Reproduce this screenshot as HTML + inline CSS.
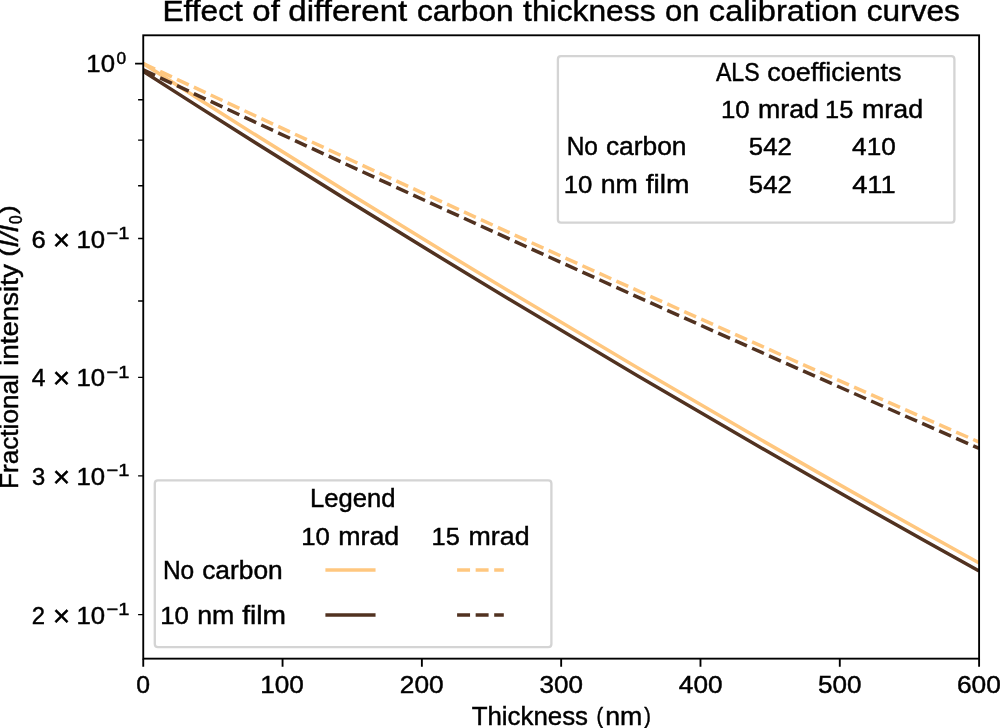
<!DOCTYPE html>
<html lang="en">
<head>
<meta charset="utf-8">
<title>Effect of different carbon thickness on calibration curves</title>
<style>
html,body{margin:0;padding:0;background:#fff;}
body{width:1000px;height:728px;overflow:hidden;font-family:"Liberation Sans",sans-serif;}
svg{display:block;will-change:transform;position:absolute;left:0;top:0;}
text{white-space:pre;}
</style>
</head>
<body>
<svg width="1000" height="728" viewBox="0 0 1000 728" font-family="'Liberation Sans', sans-serif">
<rect width="1000" height="728" fill="#fff"/>
<clipPath id="ax"><rect x="143.25" y="35.3" width="835.85" height="623.35"/></clipPath>
<g clip-path="url(#ax)" fill="none" stroke-width="3.5">
<path d="M143.25 63.5Q561.17 331.75 979.1 563" stroke="#ffc77f"/>
<path d="M143.25 71.4Q561.17 339.7 979.1 571" stroke="#513220"/>
<path d="M143.25 63.5Q561.17 259.45 979.1 442.1" stroke="#ffc77f" stroke-dasharray="12.98 5.615"/>
<path d="M143.25 69.9Q561.17 265.8 979.1 448.4" stroke="#513220" stroke-dasharray="12.98 5.615"/>
</g>
<path d="M561 56.2H951.3Q954.4 56.2 954.4 59.3V219.45Q954.4 222.55 951.3 222.55H561Q557.9 222.55 557.9 219.45V59.3Q557.9 56.2 561 56.2Z" fill="#fff" fill-opacity="0.8" stroke="#d4d4d4" stroke-width="2.33"/>
<path d="M157.9 480.4H548.3Q551.4 480.4 551.4 483.5V644Q551.4 647.1 548.3 647.1H157.9Q154.8 647.1 154.8 644V483.5Q154.8 480.4 157.9 480.4Z" fill="#fff" fill-opacity="0.8" stroke="#d4d4d4" stroke-width="2.33"/>
<rect x="143.25" y="35.3" width="835.85" height="623.35" fill="none" stroke="#000" stroke-width="1.87"/>
<path d="M143.25 658.65v8.17M282.56 658.65v8.17M421.87 658.65v8.17M561.17 658.65v8.17M700.48 658.65v8.17M839.79 658.65v8.17M979.1 658.65v8.17M143.25 63.6h-8.17" stroke="#000" stroke-width="1.87" fill="none"/>
<path d="M143.25 99.77h-5.15M143.25 140.08h-5.15M143.25 185.79h-5.15M143.25 238.56h-5.15M143.25 300.97h-5.15M143.25 377.36h-5.15M143.25 475.83h-5.15M143.25 614.63h-5.15" stroke="#000" stroke-width="1.4" fill="none"/>
<g fill="#000" stroke="#000" stroke-width="0.45" font-family="'Liberation Sans', sans-serif">
<text x="162.4" y="21.1" font-size="30.39" textLength="80.36" lengthAdjust="spacingAndGlyphs">Effect</text>
<text x="252.33" y="21.1" font-size="30.39" textLength="27.46" lengthAdjust="spacingAndGlyphs">of</text>
<text x="288.39" y="21.1" font-size="30.39" textLength="118.92" lengthAdjust="spacingAndGlyphs">different</text>
<text x="416.91" y="21.1" font-size="30.39" textLength="96.66" lengthAdjust="spacingAndGlyphs">carbon</text>
<text x="523.12" y="21.1" font-size="30.39" textLength="132.43" lengthAdjust="spacingAndGlyphs">thickness</text>
<text x="664.95" y="21.1" font-size="30.39" textLength="34.45" lengthAdjust="spacingAndGlyphs">on</text>
<text x="708.88" y="21.1" font-size="30.39" textLength="148.5" lengthAdjust="spacingAndGlyphs">calibration</text>
<text x="866.8" y="21.1" font-size="30.39" textLength="93.06" lengthAdjust="spacingAndGlyphs">curves</text>
<text x="136.38" y="693" font-size="24.62" textLength="13.75" lengthAdjust="spacingAndGlyphs">0</text>
<text x="260.26" y="693" font-size="24.62" textLength="43.64" lengthAdjust="spacingAndGlyphs">100</text>
<text x="399.81" y="693" font-size="24.62" textLength="43.83" lengthAdjust="spacingAndGlyphs">200</text>
<text x="539.48" y="693" font-size="24.62" textLength="43.43" lengthAdjust="spacingAndGlyphs">300</text>
<text x="678.86" y="693" font-size="24.62" textLength="43.68" lengthAdjust="spacingAndGlyphs">400</text>
<text x="818.06" y="693" font-size="24.62" textLength="43.46" lengthAdjust="spacingAndGlyphs">500</text>
<text x="956.98" y="693" font-size="24.62" textLength="43.94" lengthAdjust="spacingAndGlyphs">600</text>
<text x="471.73" y="724.5" font-size="25.33" textLength="116.32" lengthAdjust="spacingAndGlyphs">Thickness</text>
<text x="596.51" y="723" font-size="22.4" textLength="6.6" lengthAdjust="spacingAndGlyphs">(</text>
<text x="605.24" y="724.5" font-size="25.33" textLength="37.11" lengthAdjust="spacingAndGlyphs">nm</text>
<text x="644.34" y="723" font-size="22.4" textLength="6.6" lengthAdjust="spacingAndGlyphs">)</text>
<text x="86.32" y="72.2" font-size="24.62" textLength="28.67" lengthAdjust="spacingAndGlyphs">10</text>
<text x="116.41" y="63.8" font-size="17.23" textLength="9.62" lengthAdjust="spacingAndGlyphs">0</text>
<text x="31.54" y="247.56" font-size="24.62" textLength="14.23" lengthAdjust="spacingAndGlyphs">6</text>
<text x="52.76" y="249.6" font-size="29.9" textLength="17.45" lengthAdjust="spacingAndGlyphs">×</text>
<text x="76.42" y="247.56" font-size="24.62" textLength="28.67" lengthAdjust="spacingAndGlyphs">10</text>
<text x="106.55" y="238.96" font-size="17.23" textLength="22.91" lengthAdjust="spacingAndGlyphs">−1</text>
<text x="31.78" y="386.36" font-size="24.62" textLength="13.74" lengthAdjust="spacingAndGlyphs">4</text>
<text x="52.76" y="388.4" font-size="29.9" textLength="17.45" lengthAdjust="spacingAndGlyphs">×</text>
<text x="76.42" y="386.36" font-size="24.62" textLength="28.67" lengthAdjust="spacingAndGlyphs">10</text>
<text x="106.55" y="377.76" font-size="17.23" textLength="22.91" lengthAdjust="spacingAndGlyphs">−1</text>
<text x="32.08" y="484.83" font-size="24.62" textLength="13.21" lengthAdjust="spacingAndGlyphs">3</text>
<text x="52.76" y="486.87" font-size="29.9" textLength="17.45" lengthAdjust="spacingAndGlyphs">×</text>
<text x="76.42" y="484.83" font-size="24.62" textLength="28.67" lengthAdjust="spacingAndGlyphs">10</text>
<text x="106.55" y="476.23" font-size="17.23" textLength="22.91" lengthAdjust="spacingAndGlyphs">−1</text>
<text x="31.72" y="623.63" font-size="24.62" textLength="13.24" lengthAdjust="spacingAndGlyphs">2</text>
<text x="52.76" y="625.67" font-size="29.9" textLength="17.45" lengthAdjust="spacingAndGlyphs">×</text>
<text x="76.42" y="623.63" font-size="24.62" textLength="28.67" lengthAdjust="spacingAndGlyphs">10</text>
<text x="106.55" y="615.03" font-size="17.23" textLength="22.91" lengthAdjust="spacingAndGlyphs">−1</text>
<text x="715.93" y="81.2" font-size="25.33" textLength="43.6" lengthAdjust="spacingAndGlyphs">ALS</text>
<text x="767.39" y="81.2" font-size="25.33" textLength="134.11" lengthAdjust="spacingAndGlyphs">coefficients</text>
<text x="720.93" y="118.3" font-size="24.62" textLength="28.67" lengthAdjust="spacingAndGlyphs">10</text>
<text x="757.97" y="118.3" font-size="25.33" textLength="60.96" lengthAdjust="spacingAndGlyphs">mrad</text>
<text x="825.06" y="118.3" font-size="24.62" textLength="28.21" lengthAdjust="spacingAndGlyphs">15</text>
<text x="862.07" y="118.3" font-size="25.33" textLength="60.96" lengthAdjust="spacingAndGlyphs">mrad</text>
<text x="566.66" y="155.4" font-size="25.33" textLength="31.35" lengthAdjust="spacingAndGlyphs">No</text>
<text x="605.9" y="155.4" font-size="25.33" textLength="80.55" lengthAdjust="spacingAndGlyphs">carbon</text>
<text x="748.88" y="155.4" font-size="24.62" textLength="42.92" lengthAdjust="spacingAndGlyphs">542</text>
<text x="852.12" y="155.4" font-size="24.62" textLength="43.68" lengthAdjust="spacingAndGlyphs">410</text>
<text x="563.74" y="192.7" font-size="24.62" textLength="28.67" lengthAdjust="spacingAndGlyphs">10</text>
<text x="600.78" y="192.7" font-size="25.33" textLength="37.11" lengthAdjust="spacingAndGlyphs">nm</text>
<text x="645.71" y="192.7" font-size="25.33" textLength="43.86" lengthAdjust="spacingAndGlyphs">film</text>
<text x="748.88" y="192.7" font-size="24.62" textLength="42.92" lengthAdjust="spacingAndGlyphs">542</text>
<text x="852.16" y="192.7" font-size="24.62" textLength="43.4" lengthAdjust="spacingAndGlyphs">411</text>
<text x="309.99" y="506.7" font-size="25.33" textLength="85.46" lengthAdjust="spacingAndGlyphs">Legend</text>
<text x="301.23" y="545.2" font-size="24.62" textLength="28.67" lengthAdjust="spacingAndGlyphs">10</text>
<text x="338.27" y="545.2" font-size="25.33" textLength="60.96" lengthAdjust="spacingAndGlyphs">mrad</text>
<text x="431.56" y="545.2" font-size="24.62" textLength="28.21" lengthAdjust="spacingAndGlyphs">15</text>
<text x="468.57" y="545.2" font-size="25.33" textLength="60.96" lengthAdjust="spacingAndGlyphs">mrad</text>
<text x="162.91" y="578.9" font-size="25.33" textLength="31.35" lengthAdjust="spacingAndGlyphs">No</text>
<text x="202.15" y="578.9" font-size="25.33" textLength="80.55" lengthAdjust="spacingAndGlyphs">carbon</text>
<text x="160.19" y="623.9" font-size="24.62" textLength="28.67" lengthAdjust="spacingAndGlyphs">10</text>
<text x="197.23" y="623.9" font-size="25.33" textLength="37.11" lengthAdjust="spacingAndGlyphs">nm</text>
<text x="242.16" y="623.9" font-size="25.33" textLength="43.86" lengthAdjust="spacingAndGlyphs">film</text>
</g>
<g fill="none" stroke-width="3.5">
<line x1="327.15" y1="569.9" x2="373.8" y2="569.9" stroke="#ffc77f" stroke-linecap="square"/>
<line x1="457.1" y1="569.9" x2="503.8" y2="569.9" stroke="#ffc77f" stroke-dasharray="12.95 5.6"/>
<line x1="327.15" y1="615.0" x2="373.8" y2="615.0" stroke="#513220" stroke-linecap="square"/>
<line x1="457.1" y1="615.0" x2="503.8" y2="615.0" stroke="#513220" stroke-dasharray="12.95 5.6"/>
</g>
<g fill="#000" stroke="#000" stroke-width="0.45" font-family="'Liberation Sans', sans-serif" transform="translate(18.05 489.1) rotate(-90)">
<text x="0.15" y="0" font-size="25.33" textLength="114.86" lengthAdjust="spacingAndGlyphs">Fractional</text>
<text x="123.34" y="0" font-size="25.33" textLength="101.54" lengthAdjust="spacingAndGlyphs">intensity</text>
<text x="232.42" y="-2.7" font-size="22.4" textLength="9.05" lengthAdjust="spacingAndGlyphs">(</text>
<text x="241.62" y="0" font-size="25.33" font-style="italic" textLength="22.46" lengthAdjust="spacingAndGlyphs">I/I</text>
<text x="265" y="4.4" font-size="17.72" textLength="8.61" lengthAdjust="spacingAndGlyphs">0</text>
<text x="274.94" y="-2.7" font-size="22.4" textLength="9.05" lengthAdjust="spacingAndGlyphs">)</text>
</g>
</svg>
</body>
</html>
